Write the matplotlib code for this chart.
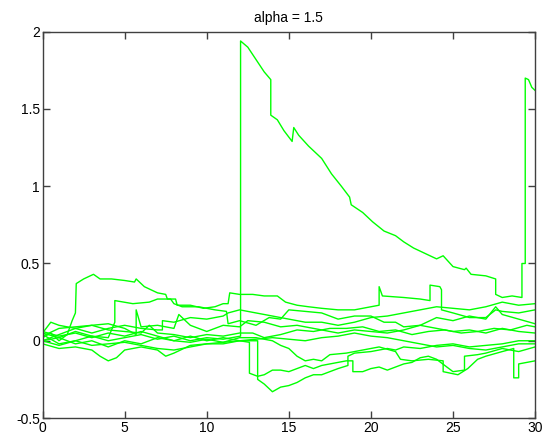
import numpy as np
import matplotlib
matplotlib.use("Agg")
from matplotlib import pyplot as plt

# sample paths as (t, value) knots; repeated t = jump
path_a = [(0, 0.05), (1, 0.02), (2, 0.06), (3, 0.03), (4, 0.0), (5, 0.02), (6, 0.04), (7, 0.01),
          (8, 0.03), (9, 0.0), (10, 0.02), (11, 0.01), (12.06, 0.03), (12.06, 1.94), (12.5, 1.90),
          (13.0, 1.82), (13.5, 1.74), (13.9, 1.69), (13.9, 1.46), (14.3, 1.43), (14.7, 1.36),
          (15.2, 1.29), (15.3, 1.38), (15.6, 1.33), (16.2, 1.26), (17.0, 1.18), (17.6, 1.08),
          (18.2, 1.00), (18.7, 0.93), (18.8, 0.88), (19.5, 0.83), (20.1, 0.77), (20.8, 0.71),
          (21.5, 0.68), (22.0, 0.64), (22.6, 0.60), (23.2, 0.57), (24.0, 0.53), (24.4, 0.55),
          (25.0, 0.48), (25.7, 0.46), (25.8, 0.47), (26.1, 0.43), (27.0, 0.42), (27.6, 0.40),
          (27.6, 0.30), (28.0, 0.28), (28.6, 0.29), (29.2, 0.28), (29.2, 0.50), (29.4, 0.50),
          (29.4, 1.70), (29.6, 1.69), (29.8, 1.64), (30, 1.62)]
path_b = [(0, 0.02), (0.5, 0.05), (1.0, 0.0), (1.5, 0.04), (1.8, 0.13), (2.0, 0.18), (2.05, 0.37),
          (2.5, 0.40), (3.1, 0.43), (3.5, 0.40), (4.2, 0.40), (5.0, 0.39), (5.6, 0.38), (5.7, 0.40),
          (6.2, 0.35), (7.0, 0.31), (7.5, 0.30), (7.6, 0.27), (8.1, 0.27), (8.2, 0.23), (9.0, 0.23),
          (9.8, 0.21), (10.5, 0.22), (11.0, 0.24), (11.3, 0.24), (11.4, 0.31), (12.0, 0.30),
          (12.8, 0.30), (13.5, 0.29), (14.3, 0.29), (14.8, 0.25), (15.5, 0.23), (16.2, 0.22),
          (17.0, 0.21), (18.0, 0.20), (19.0, 0.20), (20.0, 0.22), (20.5, 0.23), (20.5, 0.35),
          (20.7, 0.29), (22, 0.28), (23, 0.27), (23.6, 0.26), (23.6, 0.36), (24.2, 0.35),
          (24.3, 0.33), (24.3, 0.20), (25, 0.18), (26, 0.15), (27, 0.15), (27.6, 0.20), (28, 0.19),
          (29, 0.18), (30, 0.20)]
path_c = [(0, 0.0), (1, -0.03), (2, 0.0), (3, 0.03), (4, 0.02), (4.4, 0.12), (4.4, 0.26),
          (5.5, 0.24), (6.5, 0.25), (7, 0.27), (7.8, 0.27), (8, 0.24), (8.5, 0.22), (9.5, 0.22),
          (10.5, 0.20), (11.2, 0.19), (11.3, 0.11), (12, 0.13), (13, 0.10), (13.8, 0.15),
          (14.5, 0.14), (15, 0.20), (16, 0.19), (17, 0.18), (18, 0.14), (19, 0.16), (20, 0.16),
          (20.8, 0.12), (21.5, 0.12), (22, 0.09), (23, 0.10), (24, 0.15), (25, 0.13), (26, 0.16),
          (27, 0.14), (27.6, 0.22), (28, 0.17), (29, 0.14), (30, 0.11)]
path_d = [(0, 0.05), (0.5, 0.12), (1, 0.10), (2, 0.08), (3, 0.10), (4, 0.11), (5, 0.08), (5.7, 0.04),
          (5.7, 0.20), (6, 0.09), (7, 0.10), (8, 0.08), (8.3, 0.17), (9, 0.10), (10, 0.06),
          (11, 0.10), (12, 0.09), (12.5, 0.13), (13.5, 0.12), (14.5, 0.09), (15.5, 0.10),
          (16.5, 0.08), (18, 0.05), (19, 0.07), (20, 0.06), (21, 0.05), (22, 0.07), (23, 0.10),
          (24, 0.08), (25, 0.06), (26, 0.07), (27, 0.05), (28, 0.08), (29, 0.06), (30, 0.05)]
path_e = [(0, 0.0), (1, 0.02), (2, -0.02), (3, 0.0), (4, -0.04), (5, 0.0), (6, -0.02), (7, 0.02),
          (8, 0.0), (9, 0.03), (10, 0.0), (11, 0.02), (12, 0.0), (12.6, -0.01), (12.6, -0.21),
          (13.1, -0.23), (13.5, -0.22), (14, -0.19), (14.5, -0.19), (15, -0.20), (15.5, -0.18),
          (16, -0.16), (16.5, -0.18), (17, -0.16), (17.5, -0.15), (18, -0.14), (18.5, -0.13),
          (18.9, -0.13), (18.9, -0.20), (19.5, -0.20), (20, -0.18), (20.5, -0.17), (21, -0.19),
          (21.5, -0.17), (22, -0.15), (22.5, -0.14), (23, -0.11), (23.5, -0.10), (24, -0.12),
          (24.5, -0.16), (25.0, -0.20), (25.7, -0.19), (25.7, -0.10), (26.5, -0.09), (27, -0.08),
          (28, -0.05), (29, -0.07), (30, -0.04)]
path_f = [(0, -0.02), (1, -0.05), (2, -0.04), (3, -0.06), (3.5, -0.10), (4, -0.13), (4.5, -0.11),
          (5, -0.06), (6, -0.04), (7, -0.06), (7.5, -0.10), (8, -0.08), (9, -0.03), (10, -0.02),
          (11, -0.01), (12, 0.0), (13.1, 0.0), (13.1, -0.25), (13.5, -0.28), (14, -0.33),
          (14.5, -0.30), (15, -0.29), (15.5, -0.27), (16, -0.24), (16.5, -0.22), (17, -0.22),
          (17.5, -0.20), (18, -0.18), (18.6, -0.16), (18.6, -0.10), (19, -0.08), (20, -0.07),
          (21, -0.05), (21.5, -0.06), (22, -0.04), (23, -0.05), (24, -0.03), (25, -0.02),
          (26, -0.04), (27, -0.03), (28, -0.02), (29, 0.0), (30, 0.0)]
path_g = [(0, 0.06), (1, 0.03), (2, 0.05), (3, 0.02), (4, 0.05), (5, 0.03), (6, 0.06), (7, 0.03),
          (8, 0.0), (9, -0.01), (10, 0.01), (11, -0.01), (12, 0.02), (13, 0.02), (14, 0.0),
          (14.5, -0.03), (15, -0.05), (15.5, -0.10), (16, -0.13), (16.5, -0.12), (17, -0.13),
          (17.5, -0.09), (18.5, -0.08), (19.5, -0.06), (20.5, -0.04), (21.5, -0.07), (21.8, -0.12),
          (22.5, -0.13), (23.5, -0.12), (24.4, -0.13), (24.4, -0.20), (25.3, -0.22), (25.9, -0.18),
          (26.5, -0.12), (27, -0.10), (28, -0.07), (28.7, -0.05), (28.7, -0.24), (29.0, -0.24),
          (29.0, -0.15), (29.5, -0.14), (30, -0.13)]
path_h = [(0, 0.03), (1, 0.08), (2, 0.09), (3, 0.10), (4, 0.07), (5, 0.06), (6, 0.05), (6.5, 0.10),
          (7, 0.05), (8, 0.04), (9, 0.02), (10, 0.04), (11, 0.03), (12, 0.05), (12.8, 0.05),
          (13.5, 0.02), (14.5, 0.04), (15.5, 0.07), (16.5, 0.06), (17.5, 0.08), (18.5, 0.08),
          (19.5, 0.09), (20.5, 0.06), (21.5, 0.07), (22.5, 0.04), (23.5, 0.06), (24.5, 0.07),
          (25.5, 0.05), (26.5, 0.06), (27.5, 0.08), (28.5, 0.07), (29.5, 0.10), (30, 0.09)]
path_i = [(0, 0.04), (1, -0.02), (2, 0.0), (3, -0.03), (4, -0.02), (5, -0.01), (6, -0.03),
          (7, -0.05), (8, -0.06), (9, -0.04), (10, -0.02), (11, -0.02), (12, 0.0), (13, 0.01),
          (14, 0.02), (15, 0.01), (16, 0.0), (17, 0.02), (18, 0.03), (19, 0.05), (20, 0.03),
          (21, 0.02), (22, 0.0), (23, -0.02), (24, -0.04), (25, -0.03), (26, -0.05), (27, -0.06),
          (28, -0.04), (29, -0.02), (30, -0.02)]
path_j = [(0, 0.0), (1, 0.04), (2, 0.08), (3, 0.05), (4, 0.08), (5, 0.10), (6, 0.08), (7, 0.07),
          (7.3, 0.07), (7.3, 0.13), (8, 0.12), (9, 0.15), (10, 0.14), (11, 0.16), (11.3, 0.18),
          (12, 0.20), (13, 0.18), (14, 0.16), (14.5, 0.15), (15, 0.14), (16, 0.12), (17, 0.12),
          (18, 0.10), (19, 0.12), (20, 0.15), (21, 0.16), (22, 0.18), (23, 0.20), (24, 0.22),
          (25, 0.21), (26, 0.20), (27, 0.22), (28, 0.25), (29, 0.23), (30, 0.24)]

paths = [path_a, path_b, path_c, path_d, path_e, path_f, path_g, path_h, path_i, path_j]
x_ticks = [0, 5, 10, 15, 20, 25, 30]
y_ticks = [-0.5, 0, 0.5, 1, 1.5, 2]
y_labels = ['-0.5', '0', '0.5', '1', '1.5', '2']

plt.rcParams['font.family'] = ['Liberation Sans', 'DejaVu Sans']
fig = plt.figure(figsize=(5.46, 4.43), dpi=100)
ax = fig.add_axes([0.078, 0.0564, 0.902, 0.872])

for p in paths:
    p = np.array(p)
    ax.plot(p[:, 0], p[:, 1], color='#00ff00', lw=1.0)

ax.set_xlim(0, 30)
ax.set_ylim(-0.5, 2)
ax.set_xticks(x_ticks)
ax.set_xticklabels([str(t) for t in x_ticks])
ax.set_yticks(y_ticks)
ax.set_yticklabels(y_labels)
ax.tick_params(direction='in', top=True, right=True, length=5, width=1,
               color='#404040', labelsize=10, pad=2)
for s in ax.spines.values():
    s.set_color('#404040')
    s.set_linewidth(1)
ax.set_title('alpha = 1.5', fontsize=10, pad=7)

fig.savefig('out.png', dpi=100)
